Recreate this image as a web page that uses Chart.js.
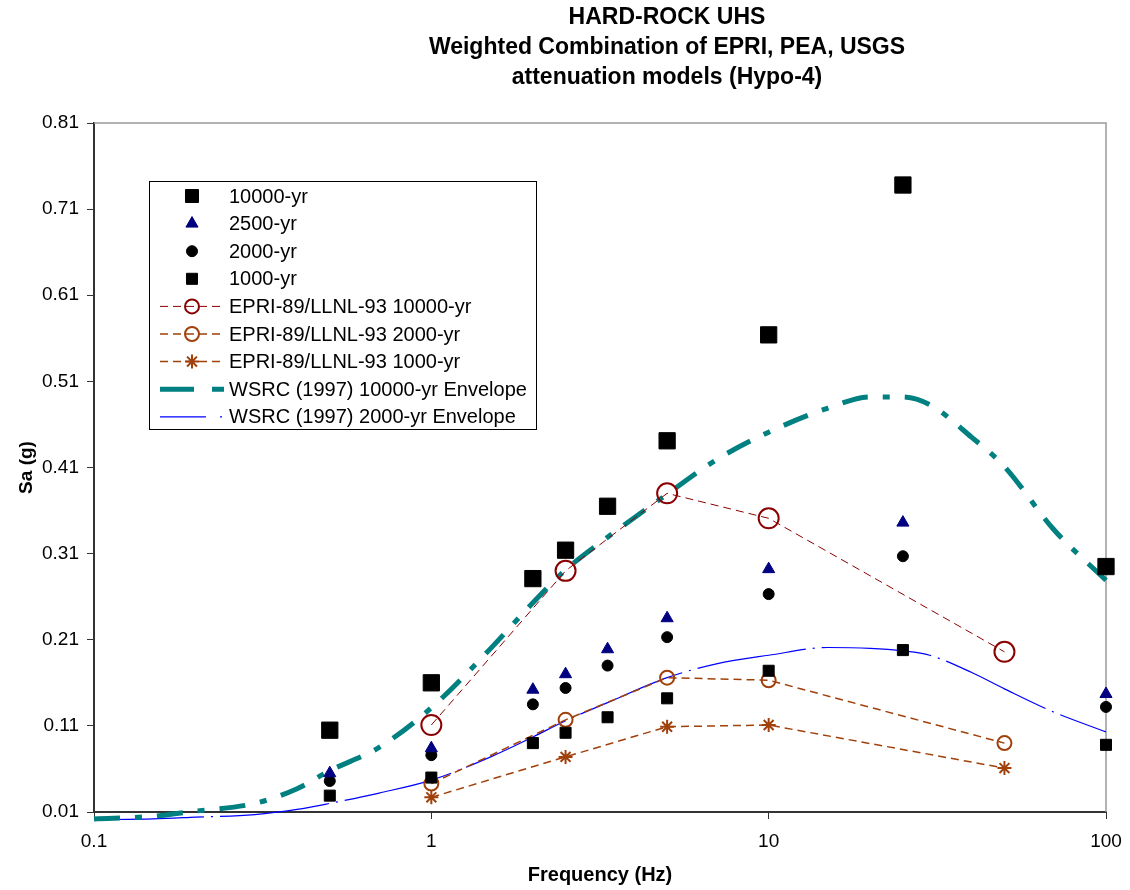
<!DOCTYPE html>
<html>
<head>
<meta charset="utf-8">
<title>Hard-rock UHS</title>
<script src="https://cdn.jsdelivr.net/npm/chart.js@4.4.1/dist/chart.umd.min.js"></script>
<style>
  html, body { margin: 0; padding: 0; background: #fff; }
  #wrap { width: 1130px; height: 890px; }
</style>
</head>
<body>
<div id="wrap"><canvas id="uhsChart"></canvas></div>
<script>
const titleLines = [
  'HARD-ROCK UHS',
  'Weighted Combination of EPRI, PEA, USGS',
  'attenuation models (Hypo-4)'
];

// UHS points (Hz / g)
const freqUHS = [0.5, 1, 2, 2.5, 3.33, 5, 10, 25, 100];
const sa10000 = [0.105, 0.16, 0.281, 0.314, 0.365, 0.441, 0.564, 0.738, 0.295];
const sa2500 = [0.055, 0.084, 0.152, 0.17, 0.199, 0.235, 0.292, 0.346, 0.147];
const sa2000 = [0.046, 0.076, 0.135, 0.154, 0.18, 0.213, 0.263, 0.307, 0.132];
const sa1000 = [0.029, 0.05, 0.09, 0.102, 0.12, 0.142, 0.174, 0.198, 0.088];

// EPRI-89/LLNL-93
const freqEPRI = [1, 2.5, 5, 10, 50];
const epri10000 = [0.111, 0.29, 0.38, 0.351, 0.196];
const epri2000 = [0.043, 0.117, 0.166, 0.163, 0.09];
const epri1000 = [0.027, 0.074, 0.109, 0.111, 0.061];

// WSRC (1997) envelopes
const freqWSRC = [0.1, 0.15, 0.2, 0.3, 0.4, 0.5, 0.7, 1, 1.5, 2, 2.5, 3.33, 5, 7, 10, 15, 20, 25, 30, 40, 50, 70, 100];
const wsrc10000 = [0.002, 0.005, 0.011, 0.02, 0.037, 0.058, 0.085, 0.131, 0.2, 0.253, 0.291, 0.329, 0.379, 0.419, 0.451, 0.479, 0.492, 0.492, 0.483, 0.445, 0.411, 0.338, 0.279];
const wsrc2000 = [0.001, 0.002, 0.004, 0.007, 0.013, 0.02, 0.032, 0.047, 0.074, 0.097, 0.116, 0.137, 0.166, 0.182, 0.192, 0.201, 0.2, 0.197, 0.192, 0.172, 0.153, 0.126, 0.103];

const xTicks = [0.1, 1, 10, 100];
const yTicks = [0.01, 0.11, 0.21, 0.31, 0.41, 0.51, 0.61, 0.71, 0.81];

const toPoints = (xs, ys) => xs.map((x, i) => ({ x: x, y: ys[i] }));

const FONT = '"Liberation Sans", Arial, sans-serif';

function marks(label, xs, ys, style, radius, color, legendRadius) {
  return {
    label: label,
    data: toPoints(xs, ys),
    showLine: false,
    pointStyle: style,
    pointRadius: radius,
    pointHoverRadius: radius,
    pointBackgroundColor: color,
    pointBorderColor: color,
    pointBorderWidth: 1,
    legendRadius: legendRadius,
    clip: false
  };
}

function epriLine(label, ys, style, radius, color, width) {
  return {
    label: label,
    data: toPoints(freqEPRI, ys),
    showLine: true,
    borderColor: color,
    borderWidth: width,
    borderDash: [8, 5],
    tension: 0,
    pointStyle: style,
    pointRadius: radius,
    pointHoverRadius: radius,
    pointBackgroundColor: 'rgba(0,0,0,0)',
    pointBorderColor: color,
    pointBorderWidth: 2,
    legendRadius: 7,
    clip: false
  };
}

function envelope(label, ys, color, width, dash) {
  return {
    label: label,
    data: toPoints(freqWSRC, ys),
    showLine: true,
    borderColor: color,
    borderWidth: width,
    borderDash: dash,
    cubicInterpolationMode: 'monotone',
    pointRadius: 0,
    pointHoverRadius: 0,
    clip: false
  };
}

// title drawn where the original had it
const titlePlugin = {
  id: 'titlePlugin',
  afterDraw(chart) {
    const ctx = chart.ctx;
    ctx.save();
    ctx.fillStyle = '#000';
    ctx.font = 'bold 23px ' + FONT;
    ctx.textAlign = 'center';
    ctx.textBaseline = 'middle';
    titleLines.forEach((t, i) => ctx.fillText(t, 667, 18 + i * 30));
    ctx.restore();
  }
};

// grey frame on top and right of the plot area
const framePlugin = {
  id: 'framePlugin',
  beforeDatasetsDraw(chart) {
    const a = chart.chartArea;
    const ctx = chart.ctx;
    ctx.save();
    ctx.strokeStyle = '#999';
    ctx.lineWidth = 1.5;
    ctx.beginPath();
    ctx.moveTo(a.left, a.top);
    ctx.lineTo(a.right, a.top);
    ctx.lineTo(a.right, a.bottom);
    ctx.stroke();
    ctx.restore();
  }
};

// legend box inside the plot
const legendPlugin = {
  id: 'legendPlugin',
  afterDraw(chart) {
    const ctx = chart.ctx;
    const bx = 149, by = 181, bw = 387, bh = 248;
    ctx.save();
    ctx.fillStyle = '#fff';
    ctx.fillRect(bx, by, bw, bh);
    ctx.strokeStyle = '#000';
    ctx.lineWidth = 1;
    ctx.strokeRect(bx + 0.5, by + 0.5, bw, bh);
    chart.data.datasets.forEach((ds, i) => {
      const cy = by + 15 + i * 27.6;
      if (ds.showLine) {
        ctx.save();
        ctx.strokeStyle = ds.borderColor;
        ctx.lineWidth = ds.borderWidth;
        ctx.setLineDash(ds.legendDash || ds.borderDash || []);
        ctx.beginPath();
        ctx.moveTo(160, cy);
        ctx.lineTo(224, cy);
        ctx.stroke();
        ctx.restore();
      }
      if (ds.pointRadius > 0) {
        ctx.save();
        ctx.setLineDash([]);
        ctx.fillStyle = ds.pointBackgroundColor;
        ctx.strokeStyle = ds.pointBorderColor;
        ctx.lineWidth = ds.pointBorderWidth;
        Chart.helpers.drawPoint(ctx, {
          pointStyle: ds.pointStyle,
          radius: ds.legendRadius || ds.pointRadius,
          rotation: 0,
          borderWidth: ds.pointBorderWidth
        }, 192, cy);
        ctx.restore();
      }
      ctx.fillStyle = '#000';
      ctx.font = '20px ' + FONT;
      ctx.textAlign = 'left';
      ctx.textBaseline = 'middle';
      ctx.fillText(ds.label, 229, cy + 1);
    });
    ctx.restore();
  }
};

const teal = envelope('WSRC (1997) 10000-yr Envelope', wsrc10000, '#008080', 5, [26, 15, 7, 15]);
teal.legendDash = [34, 18, 12, 20];
const blue = envelope('WSRC (1997) 2000-yr Envelope', wsrc2000, '#0000ff', 1.2, [110, 7, 2, 7]);
blue.legendDash = [46, 14, 2, 20];

new Chart(document.getElementById('uhsChart'), {
  type: 'scatter',
  data: {
    datasets: [
      marks('10000-yr', freqUHS, sa10000, 'rect', 11.5, '#000', 9.2),
      marks('2500-yr', freqUHS, sa2500, 'triangle', 7, '#000080', 7),
      marks('2000-yr', freqUHS, sa2000, 'circle', 5.5, '#000', 5.5),
      marks('1000-yr', freqUHS, sa1000, 'rect', 7.8, '#000', 7.8),
      epriLine('EPRI-89/LLNL-93 10000-yr', epri10000, 'circle', 10, '#8b0000', 1),
      epriLine('EPRI-89/LLNL-93 2000-yr', epri2000, 'circle', 7, '#a0400a', 1.5),
      epriLine('EPRI-89/LLNL-93 1000-yr', epri1000, 'star', 7, '#a0400a', 1.5),
      teal,
      blue
    ]
  },
  options: {
    responsive: true,
    maintainAspectRatio: false,
    animation: false,
    layout: { padding: { top: 123, right: 24, left: 0, bottom: 0 } },
    plugins: {
      legend: { display: false },
      tooltip: { enabled: false },
      title: { display: false }
    },
    scales: {
      x: {
        type: 'logarithmic',
        min: 0.1,
        max: 100,
        afterBuildTicks: (s) => { s.ticks = xTicks.map(v => ({ value: v })); },
        afterFit: (s) => { s.height = 78; s.paddingLeft = 0; s.paddingRight = 0; },
        grid: { drawOnChartArea: false, drawTicks: true, tickLength: 7, color: '#333' },
        border: { color: '#333', width: 2 },
        ticks: {
          color: '#000',
          font: { family: FONT, size: 19 },
          padding: 11,
          maxRotation: 0,
          callback: (v) => String(v)
        },
        title: {
          display: true,
          text: 'Frequency (Hz)',
          color: '#000',
          font: { family: FONT, size: 20, weight: 'bold' },
          padding: { top: 0, bottom: 3 }
        }
      },
      y: {
        min: 0.01,
        max: 0.81,
        afterBuildTicks: (s) => { s.ticks = yTicks.map(v => ({ value: v })); },
        afterFit: (s) => { s.width = 94; s.paddingTop = 0; s.paddingBottom = 0; },
        grid: { drawOnChartArea: false, drawTicks: true, tickLength: 7, color: '#333' },
        border: { color: '#333', width: 2 },
        ticks: {
          color: '#000',
          font: { family: FONT, size: 19 },
          padding: 8,
          callback: (v) => Number(v).toFixed(2)
        },
        title: {
          display: true,
          text: 'Sa (g)',
          color: '#000',
          font: { family: FONT, size: 19, weight: 'bold' },
          padding: { top: 15, bottom: 0 }
        }
      }
    }
  },
  plugins: [framePlugin, titlePlugin, legendPlugin]
});
</script>
</body>
</html>
